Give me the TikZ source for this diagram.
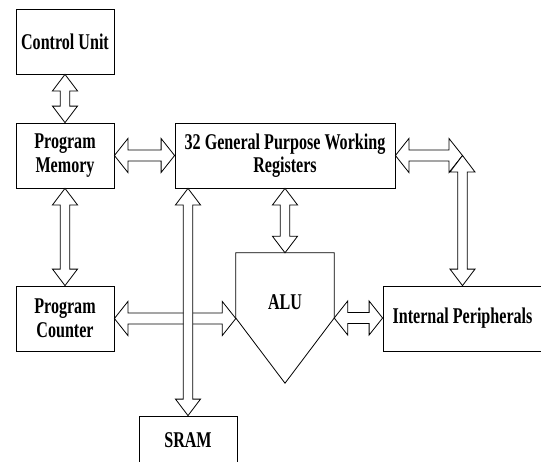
\documentclass[tikz,border=0pt]{standalone}
\usepackage{fontspec}
\newfontfamily\blockfont{Liberation Serif}[FakeStretch=0.715]
\usetikzlibrary{calc}

\tikzset{
    label text/.style={font=\blockfont\bfseries\fontsize{22.5}{23.5}\selectfont},
    block/.style={draw, line width=0.8pt, minimum width=98pt, minimum height=65pt,
        inner sep=0pt, align=center, label text},
    % hollow double-headed bus arrows, left to right and top to bottom
    hbus/.style={draw, fill=white, line width=0.8pt, to path={
        let \p1=(\tikztostart), \p2=(\tikztotarget) in
        (\x1,\y1) -- (\x1+13.5pt,\y1+17pt) -- (\x1+13.5pt,\y1+5.5pt)
        -- (\x2-13.5pt,\y1+5.5pt) -- (\x2-13.5pt,\y1+17pt) -- (\x2,\y1)
        -- (\x2-13.5pt,\y1-17pt) -- (\x2-13.5pt,\y1-5.5pt)
        -- (\x1+13.5pt,\y1-5.5pt) -- (\x1+13.5pt,\y1-17pt) -- cycle}},
    vbus/.style={draw, fill=white, line width=0.8pt, to path={
        let \p1=(\tikztostart), \p2=(\tikztotarget) in
        (\x1,\y1) -- (\x1+12.5pt,\y1-16.5pt) -- (\x1+4.75pt,\y1-16.5pt)
        -- (\x1+4.75pt,\y2+16.5pt) -- (\x1+12.5pt,\y2+16.5pt) -- (\x1,\y2)
        -- (\x1-12.5pt,\y2+16.5pt) -- (\x1-4.75pt,\y2+16.5pt)
        -- (\x1-4.75pt,\y1-16.5pt) -- (\x1-12.5pt,\y1-16.5pt) -- cycle}}
}

\begin{document}
\begin{tikzpicture}[x=1pt, y=-1pt]
    \clip (0,0) rectangle (541,461);
    % blocks
    \node[block] (cu) at (65,41.5) {Control Unit};
    \node[block] (pm) at (65,155.5) {Program\\Memory};
    \node[block, minimum width=220pt] (gpr) at (285,155.5) {32 General Purpose Working\\Registers};
    \node[block] (pc) at (65,318.5) {Program\\Counter};
    \node[block, minimum width=159pt] (ip) at (462.5,318.5) {Internal Peripherals};
    \node[block, minimum height=48pt] (sram) at (188,440) {SRAM};
    % ALU is a pentagon pointing down
    \node[minimum width=98pt, minimum height=130pt, inner sep=0pt] (alu) at (285,318) {};
    \draw[line width=0.8pt] (alu.north west) -- (alu.north east) -- (alu.east)
        -- (alu.south) -- (alu.west) -- cycle;
    \node[label text] (alutag) at (285,302) {ALU};
    % buses
    \coordinate (bend) at (ip.north |- gpr.east);
    \draw[vbus] (cu.south) to (pm.north);
    \draw[hbus] (pm.east) to (gpr.west);
    \draw[vbus] (pm.south) to (pc.north);
    \draw[vbus] (gpr.south) to (alu.north);
    \draw[hbus] (pc.east) to (alu.west);
    \draw[vbus] (sram.north |- gpr.south) to (sram.north);
    \draw[hbus] (alu.east) to (ip.west);
    \draw[hbus] (gpr.east) to (bend);
    \draw[vbus] (bend) to (ip.north);
\end{tikzpicture}
\end{document}
